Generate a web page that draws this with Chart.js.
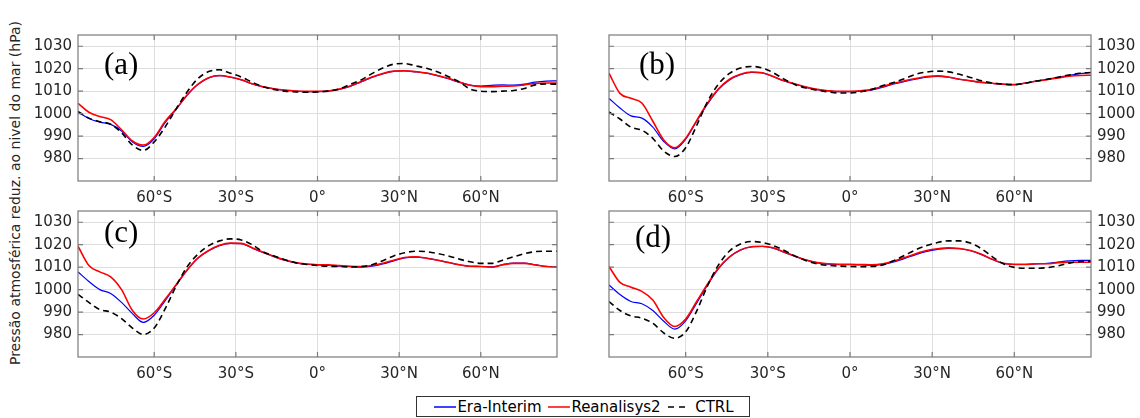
<!DOCTYPE html>
<html>
<head>
<meta charset="utf-8">
<script src="https://cdn.jsdelivr.net/npm/chart.js@4.4.1/dist/chart.umd.min.js"></script>
<style>
body { margin:0; background:#fff; width:1140px; height:418px; position:relative; overflow:hidden; font-family:"DejaVu Sans", sans-serif; }
canvas { position:absolute; }
.tag { position:absolute; font-family:"Liberation Serif", serif; font-size:31px; line-height:31px; color:#000; }
#ylabel { position:absolute; left:15px; top:193px; transform:translate(-50%,-50%) rotate(-90deg); white-space:nowrap; font-size:14px; color:#262626; }
#legend { position:absolute; left:416px; top:396px; width:334px; height:21px; border:1px solid #333; box-sizing:border-box; display:flex; align-items:center; justify-content:center; font-size:15px; color:#000; white-space:nowrap; }
#legend svg { margin:0 1px 0 2px; }
</style>
</head>
<body>
<canvas id="pa" width="540" height="200" style="left:30px;top:20px"></canvas>
<canvas id="pb" width="550" height="200" style="left:590px;top:20px"></canvas>
<canvas id="pc" width="540" height="200" style="left:30px;top:196px"></canvas>
<canvas id="pd" width="550" height="200" style="left:590px;top:196px"></canvas>
<div class="tag" style="left:104px;top:48px">(a)</div>
<div class="tag" style="left:639px;top:48px">(b)</div>
<div class="tag" style="left:104px;top:216px">(c)</div>
<div class="tag" style="left:635px;top:221px">(d)</div>
<div id="ylabel">Pressão atmosférica reduz. ao nivel do mar (hPa)</div>
<div id="legend">
  <svg width="22" height="6"><line x1="0" y1="3" x2="22" y2="3" stroke="#0000ff" stroke-width="1.5"/></svg>Era-Interim&nbsp;<svg width="22" height="6"><line x1="0" y1="3" x2="22" y2="3" stroke="#ff0000" stroke-width="1.5"/></svg>Reanalisys2&nbsp;<svg width="22" height="6"><line x1="1" y1="3" x2="22" y2="3" stroke="#000" stroke-width="1.5" stroke-dasharray="6,5"/></svg>&nbsp;CTRL
</div>
<script>
var lat = [-88,-84,-80,-76,-72,-68,-64,-60,-56,-52,-48,-44,-40,-36,-32,-28,-24,-20,-16,-12,-8,-4,0,4,8,12,16,20,24,28,32,36,40,44,48,52,56,60,64,68,72,76,80,84,88];
var latTicks = [-60,-30,0,30,60];
var latLabels = ['60°S','30°S','0°','30°N','60°N'];
var pTicks = [980,990,1000,1010,1020,1030];

// (a)
var eraA = [1000.7,997.8,996.2,995.2,992.3,987.4,985.4,988.8,996.0,1001.8,1008.0,1012.9,1015.9,1016.9,1016.2,1015.0,1013.2,1011.9,1011.0,1010.4,1010.0,1009.8,1009.8,1010.0,1010.8,1012.1,1014.1,1016.1,1017.7,1018.8,1019.0,1018.6,1018.0,1016.9,1015.5,1014.0,1012.7,1012.3,1012.6,1012.8,1012.7,1013.1,1014.0,1014.5,1014.6];
var reaA = [1004.6,1000.6,998.7,997.3,992.8,987.8,986.0,989.4,996.5,1002.0,1008.2,1013.0,1016.0,1017.0,1016.3,1015.1,1013.3,1012.0,1011.1,1010.5,1010.1,1009.9,1009.9,1010.1,1010.9,1012.3,1014.3,1016.3,1017.9,1018.9,1019.1,1018.7,1018.1,1017.0,1015.7,1014.1,1012.6,1012.0,1012.0,1012.2,1012.3,1012.8,1013.4,1013.6,1013.6];
var ctlA = [1001.0,998.0,996.4,995.3,991.5,986.0,983.6,987.4,994.0,1002.0,1009.5,1015.5,1018.7,1019.5,1018.0,1016.3,1014.0,1012.0,1010.8,1010.0,1009.7,1009.5,1009.6,1010.0,1011.0,1013.0,1015.0,1017.8,1020.3,1022.0,1022.3,1021.3,1020.2,1018.6,1016.5,1014.2,1011.0,1010.0,1009.8,1010.0,1010.3,1011.2,1012.8,1013.2,1013.1];

// (b)
var eraB = [1006.8,1002.5,999.0,998.0,994.0,987.6,984.3,988.6,996.6,1004.3,1010.8,1015.0,1017.3,1018.4,1018.1,1016.4,1014.5,1013.1,1011.7,1010.7,1010.1,1009.8,1009.8,1010.0,1010.6,1011.8,1013.2,1014.3,1015.3,1016.2,1016.6,1016.2,1015.3,1014.6,1013.9,1013.5,1013.1,1012.9,1013.6,1014.5,1015.3,1016.1,1017.0,1017.8,1018.3];
var reaB = [1018.0,1009.0,1006.8,1004.7,996.6,988.3,984.8,989.0,996.9,1004.7,1011.0,1015.3,1017.5,1018.5,1018.2,1016.5,1014.6,1013.2,1011.8,1010.8,1010.2,1009.9,1009.9,1010.2,1010.8,1012.1,1013.5,1014.6,1015.6,1016.5,1016.8,1016.3,1015.3,1014.6,1013.9,1013.5,1013.1,1012.9,1013.6,1014.4,1015.1,1015.9,1016.6,1017.0,1017.1];
var ctlB = [1000.7,997.6,994.0,992.6,989.0,983.3,980.9,984.8,994.7,1005.4,1013.2,1017.9,1020.3,1021.0,1020.3,1018.2,1015.3,1012.9,1011.4,1010.4,1009.7,1009.2,1009.2,1009.7,1010.8,1012.5,1013.9,1015.6,1017.5,1018.5,1018.9,1018.6,1017.5,1016.1,1014.6,1013.6,1013.1,1012.9,1013.6,1014.5,1015.3,1016.2,1017.2,1018.0,1018.3];

// (c)
var eraC = [1007.9,1003.6,1000.0,998.3,994.3,989.3,985.4,988.6,995.0,1001.9,1008.5,1013.9,1017.3,1019.6,1020.6,1020.5,1018.5,1016.5,1014.7,1013.1,1011.9,1011.3,1011.0,1010.8,1010.5,1010.2,1010.0,1010.4,1011.4,1012.8,1014.1,1014.5,1014.0,1013.1,1012.1,1011.1,1010.4,1010.3,1010.1,1011.1,1011.8,1011.8,1011.1,1010.4,1010.2];
var reaC = [1019.3,1010.7,1007.9,1005.7,1000.0,990.7,986.9,989.7,995.7,1002.1,1008.6,1014.0,1017.4,1019.7,1020.7,1020.6,1018.6,1016.6,1014.8,1013.2,1012.0,1011.4,1011.1,1011.0,1010.7,1010.4,1010.3,1010.7,1011.7,1013.1,1014.3,1014.6,1014.0,1013.1,1012.1,1011.1,1010.4,1010.3,1010.0,1011.0,1011.7,1011.7,1011.0,1010.3,1010.0];
var ctlC = [997.9,994.3,991.1,990.0,987.1,982.9,980.0,982.9,991.4,1001.4,1010.0,1015.7,1019.6,1021.7,1022.6,1022.1,1020.0,1016.8,1015.0,1013.3,1012.0,1011.2,1010.7,1010.4,1010.3,1010.1,1010.3,1011.1,1012.9,1015.0,1016.4,1017.1,1016.9,1016.1,1015.0,1013.6,1012.4,1011.7,1011.7,1013.1,1014.6,1016.0,1016.9,1017.1,1017.1];

// (d)
var eraD = [1002.1,997.8,994.7,993.7,990.7,985.9,982.4,986.1,994.0,1002.1,1009.3,1014.5,1017.6,1019.0,1019.2,1018.5,1016.6,1014.8,1013.1,1011.9,1011.3,1011.1,1011.1,1011.0,1010.8,1011.2,1012.3,1013.9,1015.6,1017.0,1017.9,1018.4,1018.2,1017.3,1015.6,1013.4,1011.7,1011.2,1011.2,1011.5,1011.7,1012.3,1012.8,1013.0,1013.0];
var reaD = [1010.3,1003.2,1001.1,999.2,995.4,987.6,983.6,986.9,994.7,1002.5,1009.6,1014.6,1017.7,1019.1,1019.3,1018.6,1016.7,1014.9,1013.2,1012.0,1011.5,1011.3,1011.3,1011.2,1011.0,1011.5,1012.7,1014.3,1016.0,1017.4,1018.2,1018.6,1018.3,1017.4,1015.7,1013.5,1011.7,1011.2,1011.2,1011.5,1011.5,1012.0,1012.2,1012.2,1012.2];
var ctlD = [994.7,990.7,988.3,987.3,985.0,980.7,978.3,981.2,990.4,1001.8,1011.0,1017.2,1020.3,1021.4,1021.0,1019.6,1017.4,1014.9,1012.9,1011.5,1010.8,1010.5,1010.3,1010.2,1010.3,1011.0,1012.9,1015.3,1017.7,1019.6,1021.0,1021.7,1021.7,1020.7,1018.2,1014.6,1011.5,1009.9,1009.5,1009.5,1009.8,1010.6,1011.8,1012.5,1012.6];

// box round the plot area plus the little inside ticks
var boxPlugin = {
    id: 'box',
    afterDraw: function(chart){
        var a = chart.chartArea, ctx = chart.ctx;
        var xs = chart.scales.x, ys = chart.scales.y;
        ctx.save();
        ctx.strokeStyle = '#7a7a7a';
        ctx.lineWidth = 1.2;
        ctx.strokeRect(a.left, a.top, a.right - a.left, a.bottom - a.top);
        ctx.beginPath();
        latTicks.forEach(function(t){
            var px = xs.getPixelForValue(t);
            ctx.moveTo(px, a.bottom); ctx.lineTo(px, a.bottom - 5);
            ctx.moveTo(px, a.top); ctx.lineTo(px, a.top + 5);
        });
        pTicks.forEach(function(t){
            var py = ys.getPixelForValue(t);
            ctx.moveTo(a.left, py); ctx.lineTo(a.left + 5, py);
            ctx.moveTo(a.right, py); ctx.lineTo(a.right - 5, py);
        });
        ctx.stroke();
        ctx.restore();
    }
};

function pts(arr){
    return lat.map(function(v, i){ return {x: v, y: arr[i]}; });
}

function panel(id, era, rea, ctl, side, pad, yw){
    new Chart(document.getElementById(id), {
        type: 'line',
        data: {
            datasets: [{
                label: 'CTRL', data: pts(ctl), borderColor: '#000000', borderWidth: 1.6,
                borderDash: [6, 4], pointRadius: 0, cubicInterpolationMode: 'monotone', fill: false
            }, {
                label: 'Reanalisys2', data: pts(rea), borderColor: '#ff0000', borderWidth: 1.6,
                pointRadius: 0, cubicInterpolationMode: 'monotone', fill: false
            }, {
                label: 'Era-Interim', data: pts(era), borderColor: '#0000ff', borderWidth: 1.2,
                pointRadius: 0, cubicInterpolationMode: 'monotone', fill: false
            }]
        },
        options: {
            responsive: false,
            animation: false,
            layout: { padding: pad },
            plugins: { legend: { display: false }, tooltip: { enabled: false } },
            scales: {
                x: {
                    type: 'linear', min: -88, max: 88,
                    afterBuildTicks: function(s){ s.ticks = latTicks.map(function(v){ return {value: v}; }); },
                    afterFit: function(s){ s.height = 39; },
                    grid: { color: '#dedede', drawTicks: false },
                    border: { display: false },
                    ticks: {
                        padding: 8, maxRotation: 0, color: '#262626',
                        font: { family: 'DejaVu Sans', size: 15 },
                        callback: function(v){ return latLabels[latTicks.indexOf(v)]; }
                    }
                },
                y: {
                    position: side, min: 970, max: 1035,
                    afterBuildTicks: function(s){ s.ticks = pTicks.map(function(v){ return {value: v}; }); },
                    afterFit: function(s){ s.width = yw; },
                    grid: { color: '#dedede', drawTicks: false },
                    border: { display: false },
                    ticks: {
                        padding: 6, color: '#262626', font: { family: 'DejaVu Sans', size: 15 },
                        callback: function(v){ return String(v); }
                    }
                }
            }
        },
        plugins: [boxPlugin]
    });
}

panel('pa', eraA, reaA, ctlA, 'left',  {left: 0,  right: 13, top: 9,  bottom: 0}, 48);
panel('pb', eraB, reaB, ctlB, 'right', {left: 19, right: 0,  top: 9,  bottom: 0}, 49);
panel('pc', eraC, reaC, ctlC, 'left',  {left: 0,  right: 13, top: 10, bottom: 0}, 48);
panel('pd', eraD, reaD, ctlD, 'right', {left: 19, right: 0,  top: 10, bottom: 0}, 49);
</script>
</body>
</html>
